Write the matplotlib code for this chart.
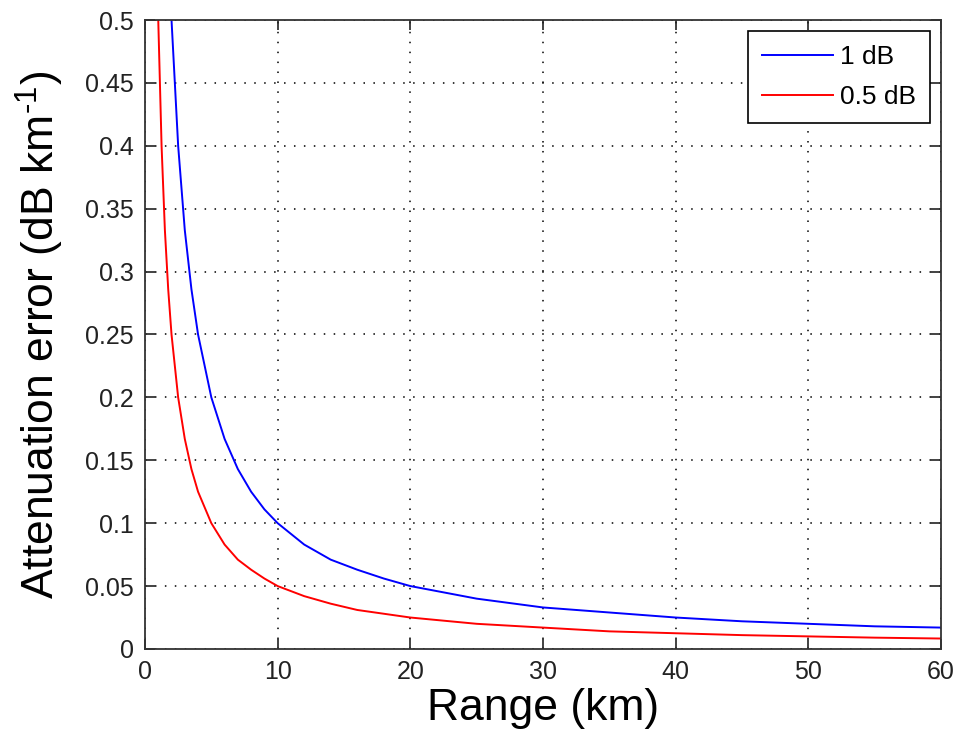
import matplotlib
matplotlib.use("Agg")
import matplotlib.pyplot as plt

plt.rcParams['font.family'] = ['Liberation Sans', 'DejaVu Sans']
plt.rcParams['mathtext.fontset'] = 'custom'
plt.rcParams['mathtext.rm'] = 'Liberation Sans'
plt.rcParams['mathtext.default'] = 'regular'

# range (km) and attenuation error (dB/km) for each calibration error
range_1db = [2, 2.5, 3, 3.5, 4, 5, 6, 7, 8, 9, 10, 12, 14, 16, 18, 20, 25, 30, 35, 40, 45, 50, 55, 60]
err_1db = [0.500, 0.400, 0.333, 0.286, 0.250, 0.200, 0.167, 0.143, 0.125, 0.111, 0.100,
           0.083, 0.071, 0.063, 0.056, 0.050, 0.040, 0.033, 0.029, 0.025, 0.022, 0.020, 0.018, 0.017]
range_05db = [1, 1.25, 1.5, 1.75, 2, 2.5, 3, 3.5, 4, 5, 6, 7, 8, 9, 10, 12, 14, 16, 18, 20,
              25, 30, 35, 40, 45, 50, 55, 60]
err_05db = [0.500, 0.400, 0.333, 0.286, 0.250, 0.200, 0.167, 0.143, 0.125, 0.100, 0.083,
            0.071, 0.063, 0.056, 0.050, 0.042, 0.036, 0.031, 0.028, 0.025, 0.020, 0.017,
            0.014, 0.0125, 0.011, 0.010, 0.009, 0.0083]
labels = ['1 dB', '0.5 dB']

fig = plt.figure(figsize=(9.57, 7.41), dpi=100)
ax = fig.add_axes([0.1515, 0.1242, 0.8318, 0.8488])

ax.plot(range_1db, err_1db, color=(0, 0, 1), lw=1.4, label=labels[0])
ax.plot(range_05db, err_05db, color=(1, 0, 0), lw=1.4, label=labels[1])

ax.set_xlim(0, 60)
ax.set_ylim(0, 0.5)
ax.set_xticks(range(0, 61, 10))
ax.set_yticks([i * 0.05 for i in range(11)])
ax.set_yticklabels(['0', '0.05', '0.1', '0.15', '0.2', '0.25', '0.3', '0.35', '0.4', '0.45', '0.5'])
ax.tick_params(direction='in', length=7, width=1.2, top=True, right=True,
               labelsize=18, pad=8, colors='#222222')
ax.grid(True, color='black', linestyle=(0, (1, 5.5)), linewidth=1.1)
for s in ax.spines.values():
    s.set_linewidth(1.3)
    s.set_color('#333333')

ax.set_xlabel('Range (km)', fontsize=32, labelpad=3)
ax.set_ylabel('Attenuation error (dB km$^{\\text{-}1}$)', fontsize=32, labelpad=14)

leg = ax.legend(loc='upper right', fontsize=19, fancybox=False, framealpha=1,
                edgecolor='black', borderaxespad=0.4, handlelength=2.7,
                handletextpad=0.25, borderpad=0.55, labelspacing=0.6)
leg.get_frame().set_linewidth(1.2)

fig.savefig('out.png', dpi=100)
